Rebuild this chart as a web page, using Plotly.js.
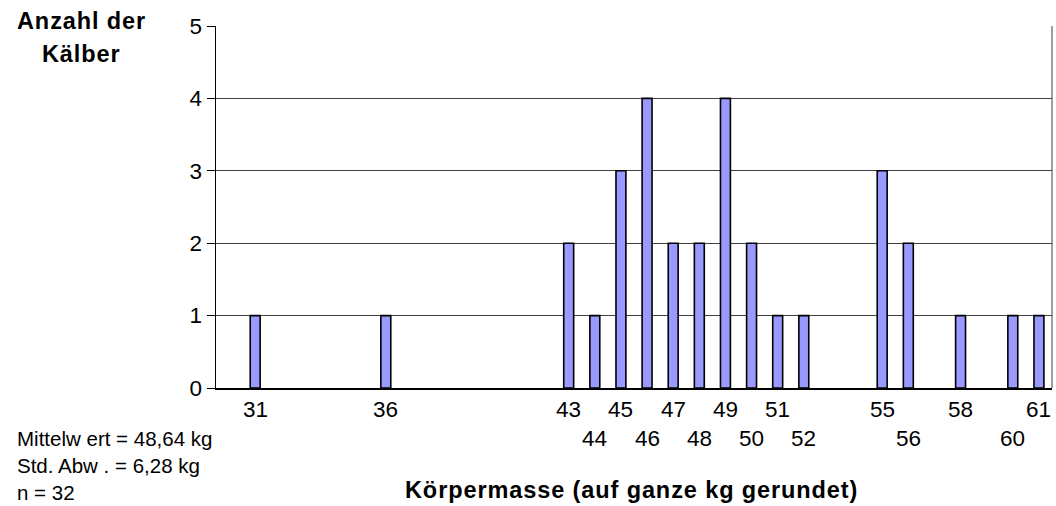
<!DOCTYPE html>
<html>
<head>
<meta charset="utf-8">
<script src="https://cdn.plot.ly/plotly-3.0.1.min.js"></script>
<style>
html,body{margin:0;padding:0;background:#fff;}
#chart{width:1056px;height:506px;}
.annotation-text tspan[style*="bold"]{letter-spacing:0.9px;}
</style>
</head>
<body>
<div id="chart"></div>
<script>
const masses = [31, 36, 43, 44, 45, 46, 47, 48, 49, 50, 51, 52, 55, 56, 58, 60, 61];
const counts = [1, 1, 2, 1, 3, 4, 2, 2, 4, 2, 1, 1, 3, 2, 1, 1, 1];
const upperTicks = [31, 36, 43, 45, 47, 49, 51, 55, 58, 61];
const lowerTicks = [44, 46, 48, 50, 52, 56, 60];
const yTicks = [0, 1, 2, 3, 4, 5];
const statsLines = ["Mittelw ert = 48,64 kg", "Std. Abw . = 6,28 kg", "n = 32"];
const yTitleLines = ["Anzahl der", "Kälber"];
const xTitle = "Körpermasse (auf ganze kg gerundet)";

const F = "Liberation Sans, Arial, sans-serif";
const L = 216, R = 4, T = 26, B = 118, W = 1056, H = 506;
const pw = W - L - R, ph = H - T - B;
const px = x => (x - L) / pw;
const py = y => (H - B - y) / ph;

const ann = [];
upperTicks.forEach(v => ann.push({x: v, xref: 'x', y: py(409), yref: 'paper', text: String(v), showarrow: false, xanchor: 'center', yanchor: 'middle', font: {family: F, size: 22.5, color: '#000'}}));
lowerTicks.forEach(v => ann.push({x: v, xref: 'x', y: py(439), yref: 'paper', text: String(v), showarrow: false, xanchor: 'center', yanchor: 'middle', font: {family: F, size: 22.5, color: '#000'}}));
const statsY = [438, 465, 493];
statsLines.forEach((s, i) => ann.push({x: px(15), xref: 'paper', y: py(statsY[i]), yref: 'paper', text: s, showarrow: false, xanchor: 'left', yanchor: 'middle', font: {family: F, size: 20.5, color: '#000'}}));
const ytY = [21, 54];
yTitleLines.forEach((s, i) => ann.push({x: px(81), xref: 'paper', y: py(ytY[i]), yref: 'paper', text: '<b>' + s + '</b>', showarrow: false, xanchor: 'center', yanchor: 'middle', font: {family: F, size: 23.5, color: '#000'}}));
ann.push({x: px(631), xref: 'paper', y: py(490), yref: 'paper', text: '<b>' + xTitle + '</b>', showarrow: false, xanchor: 'center', yanchor: 'middle', font: {family: F, size: 23.5, color: '#000'}});

const data = [{
  type: 'bar', x: masses, y: counts, width: 0.38,
  marker: {color: '#9999ff', line: {color: '#000', width: 1.6}},
  hoverinfo: 'x+y'
}];

const layout = {
  width: W, height: H,
  margin: {l: L, r: R, t: T, b: B, pad: 0},
  paper_bgcolor: '#fff', plot_bgcolor: '#fff',
  showlegend: false,
  xaxis: {range: [29.5, 61.5], showticklabels: false, ticks: '', showgrid: false, zeroline: false,
          showline: true, linecolor: '#000', linewidth: 1.5, mirror: false},
  yaxis: {range: [0, 5], tickvals: yTicks, ticks: 'outside', ticklen: 8, tickcolor: '#000', tickwidth: 1,
          showgrid: true, gridcolor: '#404040', gridwidth: 1, zeroline: false,
          showline: true, linecolor: '#000', linewidth: 1.5,
          tickfont: {family: F, size: 22.5, color: '#000'}},
  annotations: ann,
  shapes: [{type: 'line', xref: 'paper', yref: 'paper', x0: 1, x1: 1, y0: 0, y1: 1, line: {color: '#404040', width: 1}}]
};

Plotly.newPlot('chart', data, layout, {displayModeBar: false, staticPlot: true});
</script>
</body>
</html>
